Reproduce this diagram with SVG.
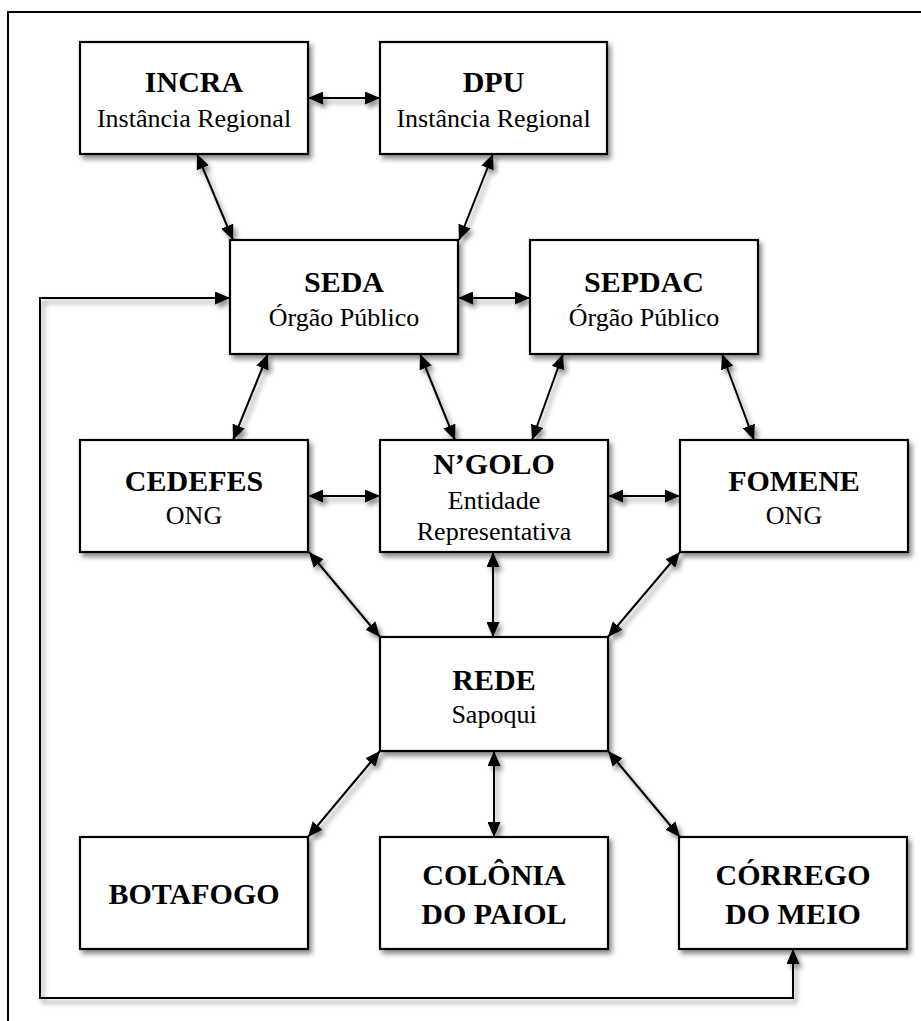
<svg xmlns="http://www.w3.org/2000/svg" width="921" height="1021" viewBox="0 0 921 1021">
<style>
.box{fill:#fff;stroke:#000;stroke-width:2.2}
text{font-family:'Liberation Serif', Tinos, 'Times New Roman', Times, serif;text-anchor:middle;fill:#000}
.t{font-weight:bold;font-size:30px}
.s{font-size:26px}
.c{fill:none;stroke:#000;stroke-width:2;marker-start:url(#ah);marker-end:url(#ah)}
</style>
<defs>
<marker id="ah" viewBox="0 0 15 13" refX="15" refY="6.5" markerWidth="15" markerHeight="13" markerUnits="userSpaceOnUse" orient="auto-start-reverse">
<path d="M0,0 L15,6.5 L0,13 z" fill="#000"/>
</marker>
<filter id="sh" x="-10%" y="-10%" width="130%" height="140%">
<feDropShadow dx="3" dy="4" stdDeviation="2.5" flood-color="#000" flood-opacity="0.45"/>
</filter>
</defs>
<rect width="921" height="1021" fill="#fff"/>
<path d="M8,1021 V12 H921" fill="none" stroke="#000" stroke-width="2"/>
<g id="connectors" filter="url(#sh)">
<line class="c" x1="308" y1="98" x2="380" y2="98"/>
<line class="c" x1="197" y1="154" x2="233" y2="240"/>
<line class="c" x1="493" y1="154" x2="459" y2="240"/>
<line class="c" x1="458" y1="298" x2="530" y2="298"/>
<line class="c" x1="268" y1="354" x2="233" y2="440"/>
<line class="c" x1="420" y1="354" x2="455" y2="440"/>
<line class="c" x1="563" y1="354" x2="532" y2="440"/>
<line class="c" x1="722" y1="354" x2="754" y2="440"/>
<line class="c" x1="308" y1="496" x2="380" y2="496"/>
<line class="c" x1="608" y1="496" x2="680" y2="496"/>
<line class="c" x1="309" y1="552" x2="380" y2="637"/>
<line class="c" x1="493" y1="552" x2="493" y2="637"/>
<line class="c" x1="680" y1="552" x2="608" y2="637"/>
<line class="c" x1="380" y1="751" x2="308" y2="837"/>
<line class="c" x1="494" y1="751" x2="494" y2="837"/>
<line class="c" x1="608" y1="751" x2="680" y2="837"/>
<path class="c" d="M230,298 H40 V998 H793 V949"/>
</g>
<g id="incra"><rect class="box" filter="url(#sh)" x="80" y="42" width="228" height="112"/><text class="t" x="194" y="92">INCRA</text><text class="s" x="194" y="127">Instância Regional</text></g>
<g id="dpu"><rect class="box" filter="url(#sh)" x="380" y="42" width="227" height="112"/><text class="t" x="493.5" y="92">DPU</text><text class="s" x="493.5" y="127">Instância Regional</text></g>
<g id="seda"><rect class="box" filter="url(#sh)" x="230" y="240" width="228" height="114"/><text class="t" x="344" y="292">SEDA</text><text class="s" x="344" y="326">Órgão Público</text></g>
<g id="sepdac"><rect class="box" filter="url(#sh)" x="530" y="240" width="228" height="114"/><text class="t" x="644" y="292">SEPDAC</text><text class="s" x="644" y="326">Órgão Público</text></g>
<g id="cedefes"><rect class="box" filter="url(#sh)" x="80" y="440" width="228" height="112"/><text class="t" x="194" y="491">CEDEFES</text><text class="s" x="194" y="524">ONG</text></g>
<g id="ngolo"><rect class="box" filter="url(#sh)" x="380" y="440" width="228" height="112"/><text class="t" x="494" y="474">N’GOLO</text><text class="s" x="494" y="509">Entidade</text><text class="s" x="494" y="540">Representativa</text></g>
<g id="fomene"><rect class="box" filter="url(#sh)" x="680" y="440" width="228" height="112"/><text class="t" x="794" y="491">FOMENE</text><text class="s" x="794" y="524">ONG</text></g>
<g id="rede"><rect class="box" filter="url(#sh)" x="380" y="637" width="228" height="114"/><text class="t" x="494" y="690">REDE</text><text class="s" x="494" y="723">Sapoqui</text></g>
<g id="botafogo"><rect class="box" filter="url(#sh)" x="80" y="837" width="228" height="112"/><text class="t" x="194" y="904">BOTAFOGO</text></g>
<g id="colonia"><rect class="box" filter="url(#sh)" x="380" y="837" width="228" height="112"/><text class="t" x="494" y="885">COLÔNIA</text><text class="t" x="494" y="924">DO PAIOL</text></g>
<g id="corrego"><rect class="box" filter="url(#sh)" x="679" y="837" width="228" height="112"/><text class="t" x="793" y="885">CÓRREGO</text><text class="t" x="793" y="924">DO MEIO</text></g>
</svg>
